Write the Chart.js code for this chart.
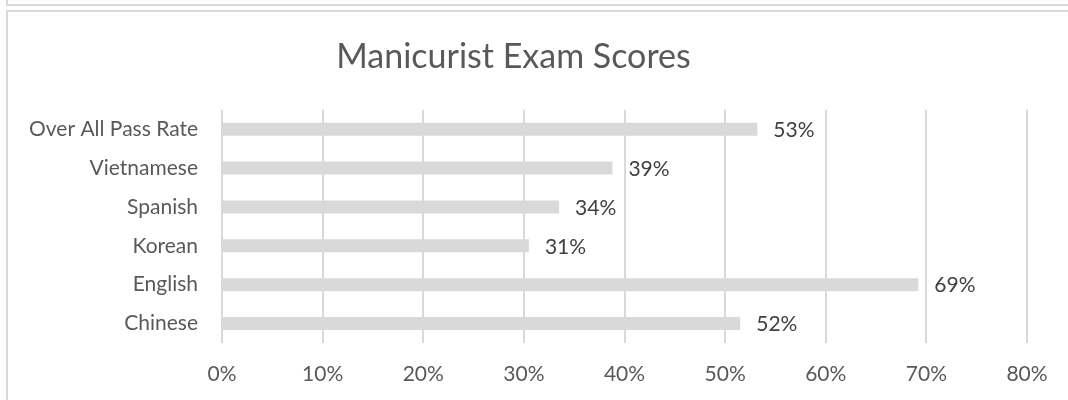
<!DOCTYPE html>
<html>
<head>
<meta charset="utf-8">
<script src="https://cdn.jsdelivr.net/npm/chart.js@4/dist/chart.umd.min.js"></script>
<style>
  body { margin: 0; background: #fff; width: 1068px; height: 400px; overflow: hidden; position: relative; }
  .frame-prev { position: absolute; left: 6px; top: -20px; width: 2000px; height: 22px; border: 2px solid #d9d9d9; }
  .frame { position: absolute; left: 6px; top: 10px; width: 2000px; height: 1000px; border: 2px solid #d9d9d9; }
  #chart-wrap { position: absolute; left: 0; top: 0; width: 1068px; height: 400px; }
</style>
</head>
<body>
<div class="frame-prev"></div>
<div class="frame"></div>
<div id="chart-wrap"><canvas id="exam-chart"></canvas></div>
<script>
// Data
const categories = ['Over All Pass Rate', 'Vietnamese', 'Spanish', 'Korean', 'English', 'Chinese'];
const passRates = [0.532, 0.388, 0.335, 0.305, 0.692, 0.515];
const tickValues = [0, 0.1, 0.2, 0.3, 0.4, 0.5, 0.6, 0.7, 0.8];

const fontFamily = 'Lato, "Open Sans", sans-serif';

// Draw the percent labels to the right of each bar
const barLabels = {
    id: 'barLabels',
    afterDatasetsDraw(chart) {
        const ctx = chart.ctx;
        const meta = chart.getDatasetMeta(0);
        ctx.save();
        ctx.font = '21px ' + fontFamily;
        ctx.fillStyle = '#404040';
        ctx.textAlign = 'left';
        ctx.textBaseline = 'middle';
        meta.data.forEach((bar, i) => {
            const { x, y } = bar.getProps(['x', 'y'], true);
            ctx.fillText(Math.round(passRates[i] * 100) + '%', x + 16, y + 1);
        });
        ctx.restore();
    }
};

const examChart = new Chart(document.getElementById('exam-chart').getContext('2d'), {
    type: 'bar',
    data: {
        labels: categories,
        datasets: [{
            label: 'Pass Rate',
            data: passRates,
            backgroundColor: '#d9d9d9',
            borderWidth: 0,
            barPercentage: 0.335,
            categoryPercentage: 1
        }]
    },
    options: {
        indexAxis: 'y',
        responsive: true,
        maintainAspectRatio: false,
        animation: false,
        layout: { padding: { top: 12, right: 41, bottom: 0, left: 0 } },
        plugins: {
            legend: { display: false },
            tooltip: { enabled: false },
            title: {
                display: true,
                text: 'Manicurist Exam Scores',
                color: '#595959',
                font: { family: fontFamily, size: 34, weight: 'normal' },
                padding: { top: 25, bottom: 32 }
            }
        },
        scales: {
            x: {
                min: 0,
                max: 0.8,
                afterBuildTicks(scale) {
                    scale.ticks = tickValues.map(v => ({ value: v }));
                },
                afterFit(scale) { scale.height = 57; },
                grid: { color: '#d9d9d9', lineWidth: 2, drawTicks: false },
                border: { display: false },
                ticks: {
                    padding: 19,
                    color: '#595959',
                    font: { family: fontFamily, size: 21 },
                    callback: v => Math.round(v * 100) + '%'
                }
            },
            y: {
                afterFit(scale) { scale.width = 222; },
                grid: { display: false, drawTicks: false },
                border: { display: false },
                ticks: {
                    padding: 24,
                    color: '#595959',
                    font: { family: fontFamily, size: 21 }
                }
            }
        }
    },
    plugins: [barLabels]
});
</script>
</body>
</html>
